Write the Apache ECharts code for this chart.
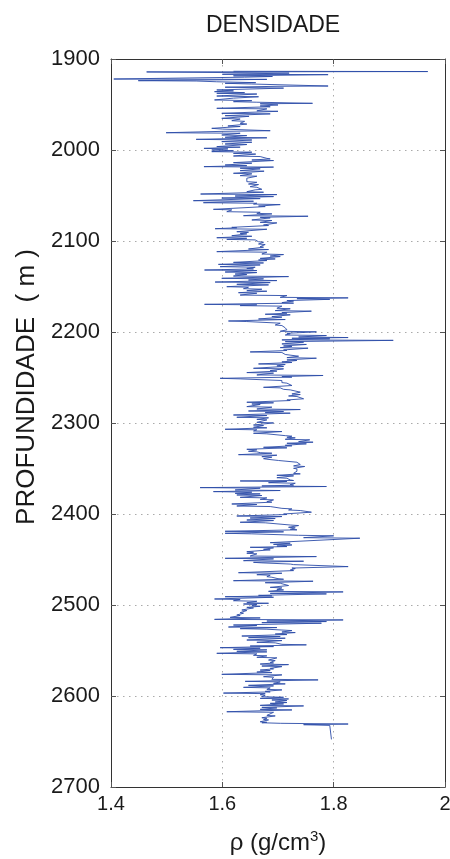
<!DOCTYPE html>
<html>
<head>
<meta charset="utf-8">
<script src="https://cdn.jsdelivr.net/npm/echarts@6.0.0/dist/echarts.min.js"></script>
<style>
  html, body { margin: 0; padding: 0; background: #fff; }
  #chart { width: 450px; height: 859px; }
</style>
</head>
<body>
<div id="chart"></div>
<script>
var depthM = [
  1913.5, 1913.8, 1914.2, 1915.5, 1916.8, 1917.2, 1918.5, 1919.2, 1920, 1922,
  1922.4, 1923.8, 1924.2, 1925, 1926, 1926.7, 1927.5, 1929.7, 1930, 1931,
  1932, 1934, 1935, 1935.9, 1937, 1937.7, 1938.5, 1940.7, 1941.5, 1943,
  1945, 1945.8, 1946.9, 1947.5, 1948.7, 1949.2, 1950.5, 1951.6, 1952.5, 1954.2,
  1954.8, 1957, 1957.5, 1959.7, 1960.3, 1962.3, 1963, 1965.2, 1966, 1967.8,
  1968.5, 1970.7, 1971.5, 1973.6, 1974.2, 1976.2, 1977, 1978.8, 1979.5, 1981,
  1981.6, 1983.5, 1984.2, 1986, 1986.6, 1988.3, 1989, 1990.8, 1991.5, 1993.4,
  1994, 1996.3, 1996.9, 1998.2, 1998.8, 2000, 2000.8, 2001.8, 2002.4, 2003.7,
  2004.5, 2006.6, 2007.2, 2009.2, 2009.8, 2011, 2011.6, 2013.9, 2014.5, 2016.5,
  2017.2, 2018.3, 2018.8, 2020, 2020.7, 2022.7, 2023.3, 2025.6, 2026.2, 2028.2,
  2028.8, 2031,
  2034.8, 2035.5, 2037.4, 2038, 2040.3, 2041, 2043.2, 2043.8, 2045.8, 2046.4,
  2048.4, 2049, 2050.6, 2051.2, 2052.8, 2053.4, 2055.7, 2056.3, 2057.9, 2058.5,
  2059.4, 2060, 2061.6, 2062.2, 2065.2, 2065.8, 2067.8, 2068.4, 2069.6, 2070.2,
  2072.2, 2072.8, 2074, 2074.6, 2076.9, 2077.5, 2079.5, 2080.1, 2082.4, 2083,
  2085, 2085.5, 2086.5, 2087.1, 2089.8, 2090.4, 2091.6, 2092.2, 2094.2, 2094.8,
  2096.4, 2097, 2098.2, 2098.8, 2100.8, 2101.4, 2103.3, 2103.9, 2106.2, 2106.8,
  2108.8, 2109.4, 2111.7, 2112.3, 2114.3, 2114.9, 2116.5, 2117.1, 2119.1, 2119.7,
  2120.9, 2121.5, 2123.5, 2124.1, 2125.7, 2126.3, 2128.2, 2128.8, 2130.1, 2130.7,
  2131.9, 2132.5, 2134.1, 2134.7, 2136.3, 2136.9, 2138.5, 2139.1, 2141, 2141.6,
  2142.9, 2143.5, 2145.1, 2145.7, 2147.6, 2148.2, 2150.2, 2150.8, 2152.4, 2153,
  2154.6, 2155.2, 2156.8, 2157.4, 2159.4, 2160, 2161.9, 2162.5, 2163.4, 2164.1,
  2165.5, 2166, 2167.7, 2168.3, 2169.6, 2170.2, 2171, 2171.6, 2173.9, 2174.5,
  2176.5, 2177.1, 2178.7, 2179.3, 2180.5, 2181.1, 2183.1, 2183.7, 2185.7, 2186.3,
  2187.9, 2188.5, 2189.7, 2190.3, 2192.3, 2192.9, 2194.8, 2195.4, 2197, 2197.6,
  2199.2, 2199.8, 2201.4, 2202, 2203.3, 2203.9, 2205.5, 2206.1, 2206.9, 2207.5,
  2208.7, 2209.2, 2210.6, 2211.2, 2213.1, 2213.7, 2215.3, 2215.9, 2217.2, 2217.8,
  2219.7, 2220.3, 2221.9, 2222.5, 2224.1, 2224.7, 2226, 2226.6, 2228.2, 2228.8,
  2230.7, 2231.3, 2232.9, 2233.5, 2235.1, 2235.7, 2237.3, 2237.9, 2239.9, 2240.5,
  2242.4, 2243, 2244.6, 2245.2, 2247.2, 2247.8, 2249, 2249.6, 2250.9, 2251.5,
  2252.7, 2253.3, 2255.6, 2256.2, 2258.2, 2258.8, 2260.8, 2261.4, 2263, 2263.6,
  2265.5, 2266.1, 2268.1, 2268.7, 2270.3, 2270.9, 2272.8, 2273.4, 2274.7, 2275.3,
  2277.2, 2277.8, 2279.1, 2279.7, 2282, 2282.6, 2284.6, 2285.2, 2286.8, 2287.4,
  2288.6, 2289.2, 2291.2, 2291.8, 2293.7, 2294.3, 2296, 2296.6,
  2299.3, 2299.9, 2302.2, 2302.8, 2304.7, 2305.3, 2306.9, 2307.5, 2308.8, 2309.4,
  2311.3, 2311.9, 2313.9, 2314.5, 2315.7, 2316.3, 2317.9, 2318.5, 2320.5, 2321.1,
  2322.3, 2322.9, 2324.5, 2325.1, 2326.7, 2327.3, 2328.9, 2329.5, 2331.1, 2331.7,
  2332.6, 2333.2, 2334.8, 2335.4, 2337, 2337.6, 2339.2, 2339.8, 2340.6, 2341.2,
  2342.5, 2343.1, 2345, 2345.6, 2347.2, 2347.8, 2349.8, 2350.4, 2352.4, 2353,
  2355.3, 2355.9, 2357.5, 2358.1, 2360.1, 2360.7, 2362.6, 2363.2, 2363.7, 2364.3,
  2365.6, 2366.2, 2367.7, 2368.3, 2369.2, 2369.8, 2371, 2371.6, 2373.6, 2374.2,
  2375.4, 2376, 2377.3, 2377.9, 2379.1, 2379.7, 2381.7, 2382.3, 2383.9, 2384.5,
  2386.4, 2387, 2389, 2389.6, 2391.2, 2391.8, 2393.8, 2394.4, 2395.6, 2396.2,
  2397.4, 2398, 2400, 2400.6, 2402.2, 2402.8, 2404.4, 2405, 2406.6, 2407.2,
  2409.1, 2409.7, 2412.1, 2412.7, 2414.6, 2415.2, 2416.8, 2417.4, 2419, 2419.6,
  2421.2, 2421.8, 2423.4, 2424, 2426, 2426.6,
  2431.5, 2432.1, 2433.4, 2434, 2435.2, 2435.8, 2436.6, 2437.2, 2438.8, 2439.4,
  2441.4, 2442, 2443.2, 2443.8, 2446.2, 2446.8, 2448.7, 2449.3, 2451.3, 2451.9,
  2453.1, 2453.7, 2455, 2455.6, 2457.2, 2457.8, 2459.4, 2460, 2461.6, 2462.2,
  2464.5, 2465.1, 2466.7, 2467.3, 2468.9, 2469.5, 2471.1, 2471.7, 2473.3, 2473.9,
  2475.5, 2476.1, 2478, 2478.6, 2480.6, 2481.2, 2482.8, 2483.4, 2485, 2485.6,
  2487.2, 2487.8, 2489.4, 2490, 2490.9, 2491.5, 2493.4, 2494, 2495.3, 2495.9,
  2497.5, 2498.1, 2498.9, 2499.5, 2500.8, 2501.4, 2502.6, 2503.2, 2505.5, 2506.1,
  2508.4, 2509, 2511, 2511.6, 2513.6, 2514.2, 2515.8, 2516.4, 2517.6, 2518.2,
  2519.4, 2520, 2522, 2522.6, 2524.2, 2524.8, 2526, 2526.6, 2527.5, 2528.1,
  2529.7, 2530.3, 2531.9, 2532.5, 2534.1, 2534.7, 2535.9, 2536.5, 2538.5, 2539.1,
  2541, 2541.6, 2543.2, 2543.8, 2545.1, 2545.7, 2546.9, 2547.5, 2548.7, 2549.3,
  2550.9, 2551.5, 2553.1, 2553.7, 2555.3, 2555.9, 2557.5, 2558.1,
  2560.5, 2561.1, 2563.1, 2563.7, 2564.9, 2565.5, 2567.1, 2567.7, 2569.6, 2570.2,
  2571.5, 2572.1, 2573.7, 2574.3, 2576.2, 2576.8, 2578.8, 2579.4, 2581.7, 2582.3,
  2583.9, 2584.5, 2586.1, 2586.7, 2588.3, 2588.9, 2590.5, 2591.1, 2592.7, 2593.3,
  2594.9, 2595.5, 2596.8, 2597.4, 2598.6, 2599.2, 2600.8, 2601.4, 2602.6, 2603.2,
  2604.4, 2605, 2606.6, 2607.2, 2608.1, 2608.7, 2610.3, 2610.9, 2612.5, 2613.1,
  2614.7, 2615.3, 2617.3, 2617.9, 2619.1, 2619.7, 2621.3, 2621.9, 2623.9, 2624.5,
  2625.7, 2626.3, 2628.3, 2628.9, 2629.4, 2630, 2630.8, 2631.5, 2632.3, 2633.7,
  2647.7
];
var rhoGcm3 = [
  1.62, 1.969, 1.464, 1.72, 1.60, 1.79, 1.62, 1.69, 1.64, 1.405,
  1.68, 1.449, 1.553, 1.59, 1.66, 1.605, 1.653, 1.79, 1.70, 1.605,
  1.71, 1.59, 1.62, 1.586, 1.64, 1.59, 1.662, 1.59, 1.665, 1.62,
  1.586, 1.653, 1.62, 1.662, 1.762, 1.668, 1.70, 1.668, 1.686, 1.59,
  1.68, 1.662, 1.70, 1.599, 1.686, 1.605, 1.648, 1.599, 1.632, 1.617,
  1.64, 1.632, 1.644, 1.61, 1.632, 1.581, 1.60, 1.686, 1.60, 1.499,
  1.632, 1.599, 1.644, 1.605, 1.68, 1.553, 1.653, 1.599, 1.653, 1.605,
  1.644, 1.59, 1.632, 1.567, 1.61, 1.581, 1.62, 1.581, 1.653, 1.62,
  1.66, 1.62, 1.668, 1.68, 1.686, 1.653, 1.692, 1.62, 1.653, 1.605,
  1.644, 1.567, 1.692, 1.632, 1.668, 1.632, 1.675, 1.62, 1.653, 1.632,
  1.662, 1.644,
  1.644, 1.662, 1.647, 1.665, 1.65, 1.662, 1.671, 1.659, 1.644, 1.674,
  1.561, 1.698, 1.623, 1.692, 1.599, 1.668, 1.548, 1.656, 1.566, 1.662,
  1.656, 1.704, 1.665, 1.677, 1.584, 1.617, 1.608, 1.668, 1.662, 1.689,
  1.638, 1.754, 1.668, 1.686, 1.653, 1.689, 1.668, 1.698, 1.674, 1.683,
  1.617, 1.626, 1.587, 1.68, 1.626, 1.647, 1.632, 1.644, 1.617, 1.653,
  1.59, 1.644, 1.608, 1.659, 1.665, 1.674, 1.665, 1.677, 1.668, 1.674,
  1.647, 1.683, 1.59, 1.68, 1.671, 1.71, 1.686, 1.704, 1.668, 1.695,
  1.665, 1.68, 1.62, 1.674, 1.593, 1.668, 1.596, 1.659, 1.644, 1.656,
  1.568, 1.662, 1.605, 1.662, 1.623, 1.644, 1.62, 1.719, 1.599, 1.674,
  1.647, 1.698, 1.587, 1.686, 1.626, 1.683, 1.608, 1.647, 1.638, 1.671,
  1.644, 1.68, 1.629, 1.662, 1.632, 1.716, 1.704, 1.826, 1.734, 1.793,
  1.716, 1.728, 1.707, 1.728, 1.568, 1.662, 1.632, 1.707, 1.698, 1.722,
  1.695, 1.76, 1.707, 1.716, 1.677, 1.722, 1.689, 1.707, 1.665, 1.713,
  1.611, 1.644, 1.644, 1.704, 1.695, 1.707, 1.704, 1.713, 1.71, 1.716,
  1.704, 1.769, 1.716, 1.722, 1.713, 1.787, 1.737, 1.826, 1.725, 1.793,
  1.707, 1.907, 1.713, 1.746, 1.707, 1.751, 1.71, 1.725, 1.704, 1.754,
  1.71, 1.716, 1.65, 1.707, 1.707, 1.713, 1.713, 1.737, 1.716, 1.769,
  1.716, 1.734, 1.707, 1.725, 1.665, 1.713, 1.698, 1.71, 1.656, 1.71,
  1.686, 1.698, 1.644, 1.692, 1.662, 1.781, 1.707, 1.725, 1.596, 1.632,
  1.632, 1.707, 1.707, 1.716, 1.716, 1.725, 1.674, 1.704, 1.71, 1.722,
  1.722, 1.74, 1.725, 1.74, 1.719, 1.734, 1.737, 1.746, 1.716, 1.722,
  1.644, 1.692, 1.653, 1.668, 1.644, 1.689, 1.662, 1.74, 1.647, 1.71,
  1.677, 1.722, 1.62, 1.68, 1.626, 1.683, 1.662, 1.68,
  1.662, 1.692, 1.656, 1.674, 1.656, 1.68, 1.605, 1.662, 1.656, 1.707,
  1.656, 1.68, 1.713, 1.725, 1.716, 1.731, 1.713, 1.757, 1.737, 1.763,
  1.716, 1.751, 1.713, 1.725, 1.674, 1.716, 1.644, 1.662, 1.647, 1.662,
  1.668, 1.689, 1.629, 1.698, 1.671, 1.689, 1.674, 1.68, 1.683, 1.701,
  1.698, 1.734, 1.734, 1.74, 1.728, 1.748, 1.728, 1.734, 1.731, 1.734,
  1.728, 1.74, 1.698, 1.728, 1.698, 1.716, 1.722, 1.728, 1.632, 1.716,
  1.683, 1.731, 1.722, 1.728, 1.671, 1.787, 1.56, 1.668, 1.623, 1.704,
  1.584, 1.653, 1.623, 1.668, 1.626, 1.671, 1.632, 1.68, 1.668, 1.692,
  1.68, 1.689, 1.617, 1.662, 1.626, 1.686, 1.707, 1.725, 1.719, 1.74,
  1.74, 1.76, 1.71, 1.716, 1.626, 1.707, 1.65, 1.695, 1.644, 1.692,
  1.632, 1.677, 1.722, 1.737, 1.719, 1.731, 1.722, 1.734, 1.605, 1.71,
  1.605, 1.653, 1.737, 1.80, 1.746, 1.847,
  1.686, 1.722, 1.692, 1.725, 1.698, 1.716, 1.65, 1.692, 1.674, 1.686,
  1.644, 1.656, 1.644, 1.662, 1.65, 1.769, 1.605, 1.692, 1.638, 1.746,
  1.656, 1.671, 1.722, 1.728, 1.728, 1.826, 1.725, 1.731, 1.722, 1.728,
  1.629, 1.707, 1.662, 1.686, 1.68, 1.689, 1.70, 1.71, 1.62, 1.763,
  1.677, 1.704, 1.701, 1.719, 1.686, 1.707, 1.698, 1.71, 1.683, 1.817,
  1.686, 1.787, 1.665, 1.689, 1.605, 1.692, 1.586, 1.632, 1.62, 1.662,
  1.644, 1.683, 1.638, 1.662, 1.653, 1.668, 1.644, 1.656, 1.635, 1.644,
  1.632, 1.638, 1.626, 1.632, 1.614, 1.668, 1.586, 1.817, 1.68, 1.787,
  1.671, 1.778, 1.62, 1.662, 1.611, 1.698, 1.632, 1.68, 1.707, 1.725,
  1.707, 1.731, 1.695, 1.716, 1.635, 1.704, 1.647, 1.713, 1.644, 1.707,
  1.662, 1.695, 1.707, 1.751, 1.65, 1.692, 1.596, 1.668, 1.62, 1.68,
  1.626, 1.68, 1.59, 1.662, 1.656, 1.68, 1.662, 1.698,
  1.683, 1.695, 1.686, 1.692, 1.668, 1.719, 1.671, 1.707, 1.686, 1.692,
  1.668, 1.686, 1.662, 1.689, 1.599, 1.707, 1.674, 1.692, 1.689, 1.772,
  1.641, 1.704, 1.692, 1.713, 1.647, 1.692, 1.638, 1.686, 1.68, 1.707,
  1.677, 1.686, 1.602, 1.677, 1.668, 1.677, 1.671, 1.71, 1.668, 1.719,
  1.689, 1.716, 1.695, 1.716, 1.686, 1.71, 1.668, 1.746, 1.671, 1.698,
  1.668, 1.725, 1.608, 1.692, 1.689, 1.695, 1.68, 1.695, 1.671, 1.68,
  1.674, 1.683, 1.668, 1.68, 1.671, 1.704, 1.826, 1.746, 1.793, 1.796,
  1.796
];

var font = '"Liberation Sans", Arial, Helvetica, sans-serif';
var frame = { show: true, lineStyle: { color: '#333', width: 1 } };
var dotted = { show: true, lineStyle: { color: '#aaa', width: 1, type: [1.5, 4.5] } };

var chart = echarts.init(document.getElementById('chart'));
chart.setOption({
  animation: false,
  backgroundColor: '#fff',
  title: {
    text: 'DENSIDADE',
    left: 201,
    top: 9,
    textStyle: { fontFamily: font, fontSize: 23, fontWeight: 'normal', color: '#1a1a1a' }
  },
  grid: { left: 111, right: 5, top: 59, bottom: 72, containLabel: false, outerBoundsMode: 'none' },
  xAxis: [
    {
      type: 'value',
      position: 'bottom',
      min: 1.4,
      max: 2,
      interval: 0.2,
      axisLine: frame,
      axisTick: { inside: true, length: 5, lineStyle: { color: '#555' } },
      axisLabel: {
        fontFamily: font, fontSize: 20, color: '#1a1a1a', margin: 7,
        formatter: function (v) { return String(Math.round(v * 10) / 10) }
      },
      splitLine: dotted,
      name: '{a|ρ (g/cm}{s|3}{a|)}',
      nameLocation: 'middle',
      nameGap: 42,
      nameTextStyle: {
        rich: {
          a: { fontFamily: font, fontSize: 24, color: '#1a1a1a', lineHeight: 28 },
          s: { fontFamily: font, fontSize: 15, color: '#1a1a1a', lineHeight: 15, verticalAlign: 'top' }
        }
      }
    },
    {
      type: 'value',
      position: 'top',
      min: 1.4,
      max: 2,
      interval: 0.2,
      axisLine: frame,
      axisTick: { inside: true, length: 5, lineStyle: { color: '#555' } },
      axisLabel: { show: false },
      splitLine: { show: false }
    }
  ],
  yAxis: [
    {
      type: 'value',
      position: 'left',
      inverse: true,
      min: 1900,
      max: 2700,
      interval: 100,
      axisLine: frame,
      axisTick: { inside: true, length: 5, lineStyle: { color: '#555' } },
      axisLabel: {
        fontFamily: font, fontSize: 22, color: '#1a1a1a', margin: 11,
        formatter: function (v) { return String(v) }
      },
      splitLine: dotted,
      name: 'PROFUNDIDADE  ( m )',
      nameLocation: 'middle',
      nameGap: 57,
      nameTextStyle: { fontFamily: font, fontSize: 26, color: '#1a1a1a', padding: [0, 0, 0, 72] }
    },
    {
      type: 'value',
      position: 'right',
      inverse: true,
      min: 1900,
      max: 2700,
      interval: 100,
      axisLine: frame,
      axisTick: { inside: true, length: 5, lineStyle: { color: '#555' } },
      axisLabel: { show: false },
      splitLine: { show: false }
    }
  ],
  series: [{
    type: 'line',
    xAxisIndex: 0,
    yAxisIndex: 0,
    showSymbol: false,
    symbol: 'none',
    lineStyle: { color: '#2b4ca8', width: 0.9 },
    data: depthM.map(function (d, i) { return [rhoGcm3[i], d] })
  }]
});
</script>
</body>
</html>
